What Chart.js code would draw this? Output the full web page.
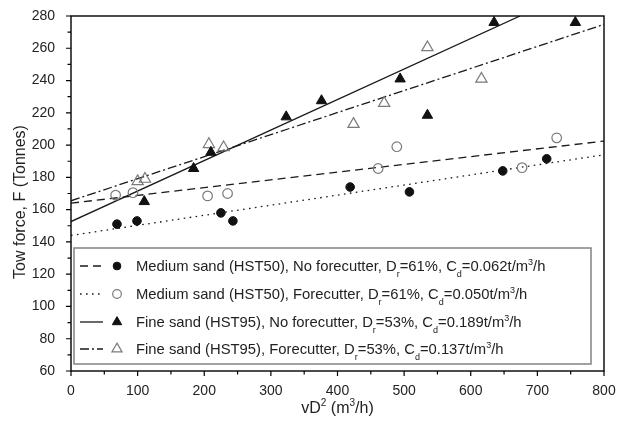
<!DOCTYPE html>
<html>
<head>
<meta charset="utf-8">
<script src="https://cdn.jsdelivr.net/npm/chart.js@4/dist/chart.umd.min.js"></script>
<style>
  html, body { margin: 0; padding: 0; background: #fff; }
  #wrap { width: 617px; height: 427px; }
</style>
</head>
<body>
<div id="wrap"><canvas id="myChart" width="617" height="427"></canvas></div>
<script>
(function () {
  'use strict'

  // measured points (vD^2 in m3/h, tow force in tonnes)
  const medNoFcX = [69, 99, 225, 243, 419, 508, 648, 714]
  const medNoFcY = [151, 153, 158, 153, 174, 171, 184, 191.5]
  const medFcX = [67, 93, 205, 235, 461, 489, 677, 729]
  const medFcY = [169, 170.5, 168.5, 170, 185.5, 199, 186, 204.5]
  const fineNoFcX = [110, 184, 210, 323, 376, 494, 535, 635, 757]
  const fineNoFcY = [165, 185.5, 195.5, 217.5, 227.5, 241, 218.5, 276, 276]
  const fineFcX = [100, 111, 207, 229, 424, 470, 535, 616]
  const fineFcY = [177.5, 179, 200.5, 198.5, 213, 226, 260.5, 241]

  // fitted lines, end points
  const dashLineX = [0, 800]
  const dashLineY = [164, 202.5]
  const dotLineX = [0, 800]
  const dotLineY = [144, 194]
  const solidLineX = [0, 674]
  const solidLineY = [152.6, 280]
  const dashDotLineX = [0, 800]
  const dashDotLineY = [165.5, 274.8]

  // legend text pieces: [text, 'n' | 'sub' | 'sup']
  const legendRows = [
    [['Medium sand (HST50), No forecutter, D', 'n'], ['r', 'sub'], ['=61%, C', 'n'], ['d', 'sub'], ['=0.062t/m', 'n'], ['3', 'sup'], ['/h', 'n']],
    [['Medium sand (HST50), Forecutter, D', 'n'], ['r', 'sub'], ['=61%, C', 'n'], ['d', 'sub'], ['=0.050t/m', 'n'], ['3', 'sup'], ['/h', 'n']],
    [['Fine sand (HST95), No forecutter, D', 'n'], ['r', 'sub'], ['=53%, C', 'n'], ['d', 'sub'], ['=0.189t/m', 'n'], ['3', 'sup'], ['/h', 'n']],
    [['Fine sand (HST95), Forecutter, D', 'n'], ['r', 'sub'], ['=53%, C', 'n'], ['d', 'sub'], ['=0.137t/m', 'n'], ['3', 'sup'], ['/h', 'n']]
  ]
  const xTitle = [['vD', 'n'], ['2', 'sup'], [' (m', 'n'], ['3', 'sup'], ['/h)', 'n']]
  const yTitle = 'Tow force, F (Tonnes)'

  const FONT = '"Liberation Sans", Arial, sans-serif'
  const TXT = '#222'
  const INK = '#111'
  const GREY = '#7a7a7a'

  function pts(xs, ys) {
    return xs.map(function (x, i) { return { x: x, y: ys[i] } })
  }

  const markers = [
    { pointStyle: 'circle', radius: 4.3, backgroundColor: INK, borderColor: INK, borderWidth: 1 },
    { pointStyle: 'circle', radius: 4.8, backgroundColor: 'rgba(0,0,0,0)', borderColor: GREY, borderWidth: 1.2 },
    { pointStyle: 'triangle', radius: 6, backgroundColor: INK, borderColor: INK, borderWidth: 1 },
    { pointStyle: 'triangle', radius: 6.5, backgroundColor: 'rgba(0,0,0,0)', borderColor: GREY, borderWidth: 1.2 }
  ]
  const dashes = [[8, 5], [1.6, 4.4], [], [9, 3, 2, 3]]

  function lineSet(xs, ys, dash) {
    return {
      data: pts(xs, ys), showLine: true, pointRadius: 0, borderColor: '#1a1a1a',
      borderWidth: 1.3, borderDash: dash, fill: false, order: 2
    }
  }
  function pointSet(xs, ys, m) {
    return {
      data: pts(xs, ys), showLine: false, pointStyle: m.pointStyle, pointRadius: m.radius,
      pointBackgroundColor: m.backgroundColor, pointBorderColor: m.borderColor,
      pointBorderWidth: m.borderWidth, order: 1
    }
  }

  function drawRich(ctx, parts, x, y, size) {
    let cx = x
    parts.forEach(function (p) {
      const t = p[0], mode = p[1]
      let fs = size, dy = 0
      if (mode === 'sub') { fs = Math.round(size * 0.62); dy = size * 0.38 }
      if (mode === 'sup') { fs = Math.round(size * 0.62); dy = -size * 0.42 }
      ctx.font = fs + 'px ' + FONT
      ctx.fillText(t, cx, y + dy)
      cx += ctx.measureText(t).width
    })
    return cx - x
  }
  function richWidth(ctx, parts, size) {
    let w = 0
    parts.forEach(function (p) {
      const fs = p[1] === 'n' ? size : Math.round(size * 0.62)
      ctx.font = fs + 'px ' + FONT
      w += ctx.measureText(p[0]).width
    })
    return w
  }

  const framePlugin = {
    id: 'frame',
    afterDraw: function (chart) {
      const ctx = chart.ctx, a = chart.chartArea
      const xs = chart.scales.x, ys = chart.scales.y
      ctx.save()
      ctx.strokeStyle = '#000'
      ctx.lineWidth = 1.4
      ctx.setLineDash([])
      ctx.strokeRect(a.left, a.top, a.right - a.left, a.bottom - a.top)
      // ticks, outward, minor between labelled ones
      ctx.lineWidth = 1.2
      ctx.beginPath()
      for (let v = 0; v <= 800; v += 50) {
        const px = xs.getPixelForValue(v)
        const len = v % 100 === 0 ? 5 : 3.5
        ctx.moveTo(px, a.bottom); ctx.lineTo(px, a.bottom + len)
      }
      for (let v = 60; v <= 280; v += 10) {
        const py = ys.getPixelForValue(v)
        const len = v % 20 === 0 ? 5 : 3.5
        ctx.moveTo(a.left, py); ctx.lineTo(a.left - len, py)
      }
      ctx.stroke()

      // axis titles
      ctx.fillStyle = TXT
      ctx.textBaseline = 'alphabetic'
      ctx.textAlign = 'left'
      const tw = richWidth(ctx, xTitle, 16)
      drawRich(ctx, xTitle, (a.left + a.right) / 2 - tw / 2, 413, 16)
      ctx.save()
      ctx.translate(25, 202)
      ctx.rotate(-Math.PI / 2)
      ctx.font = '16px ' + FONT
      ctx.textAlign = 'center'
      ctx.fillText(yTitle, 0, 0)
      ctx.restore()

      // legend box
      ctx.fillStyle = '#fff'
      ctx.fillRect(74, 248, 517, 116)
      ctx.strokeStyle = '#8a8a8a'
      ctx.lineWidth = 1.6
      ctx.strokeRect(74, 248, 517, 116)
      const rowY = [266, 294, 322, 349]
      legendRows.forEach(function (row, i) {
        const y = rowY[i]
        ctx.strokeStyle = '#1a1a1a'
        ctx.lineWidth = 1.3
        ctx.setLineDash(dashes[i])
        ctx.beginPath()
        ctx.moveTo(80, y); ctx.lineTo(103, y)
        ctx.stroke()
        ctx.setLineDash([])
        const m = markers[i]
        ctx.fillStyle = m.backgroundColor
        ctx.strokeStyle = m.borderColor
        ctx.lineWidth = m.borderWidth
        Chart.helpers.drawPoint(ctx, { pointStyle: m.pointStyle, radius: m.radius * 0.9, borderWidth: m.borderWidth, rotation: 0 }, 117, y)
        ctx.fillStyle = TXT
        drawRich(ctx, row, 136, y + 5, 14.8)
      })
      ctx.restore()
    }
  }

  var ctx = document.getElementById('myChart')
  const config = {
    type: 'scatter',
    data: {
      datasets: [
        lineSet(dashLineX, dashLineY, dashes[0]),
        lineSet(dotLineX, dotLineY, dashes[1]),
        lineSet(solidLineX, solidLineY, dashes[2]),
        lineSet(dashDotLineX, dashDotLineY, dashes[3]),
        pointSet(medNoFcX, medNoFcY, markers[0]),
        pointSet(medFcX, medFcY, markers[1]),
        pointSet(fineNoFcX, fineNoFcY, markers[2]),
        pointSet(fineFcX, fineFcY, markers[3])
      ]
    },
    options: {
      responsive: false,
      animation: false,
      layout: { padding: { top: 16, right: 13, left: 0, bottom: 0 } },
      scales: {
        x: {
          type: 'linear', min: 0, max: 800,
          grid: { display: false }, border: { display: false },
          ticks: { stepSize: 100, padding: 4, color: TXT, font: { family: FONT, size: 14 }, maxRotation: 0 },
          afterFit: function (s) { s.height = 56; s.paddingLeft = 0; s.paddingRight = 0 }
        },
        y: {
          type: 'linear', min: 60, max: 280,
          grid: { display: false }, border: { display: false },
          ticks: { stepSize: 20, padding: 8, color: TXT, font: { family: FONT, size: 14 } },
          afterFit: function (s) { s.width = 71; s.paddingTop = 0; s.paddingBottom = 0 }
        }
      },
      plugins: {
        legend: { display: false },
        tooltip: { enabled: false }
      }
    },
    plugins: [framePlugin]
  }
  var chart = new Chart(ctx, config)
})()
</script>
</body>
</html>
